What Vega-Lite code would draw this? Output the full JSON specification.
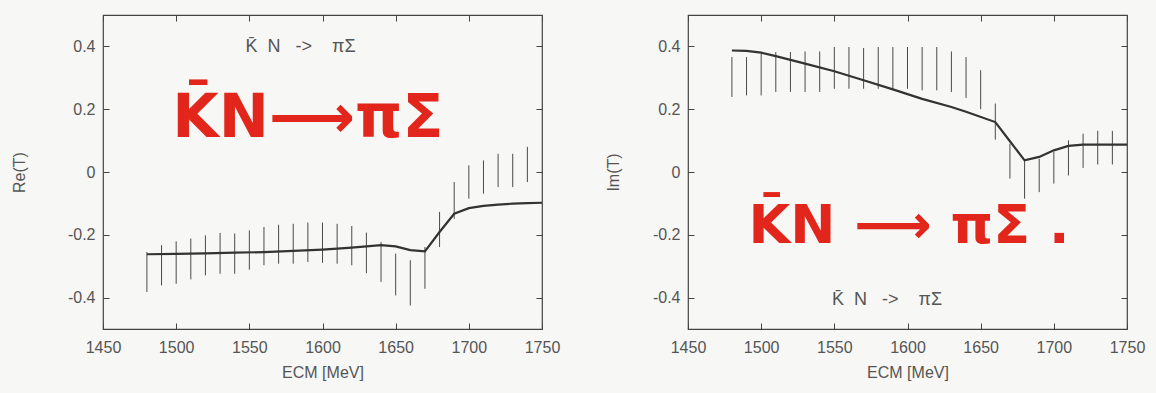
{
  "$schema": "https://vega.github.io/schema/vega-lite/v6.json",
  "background": "#f7f7f5",
  "padding": {"left": 10, "top": 13, "right": 12, "bottom": 12},
  "config": {
    "view": {"stroke": "#444", "strokeWidth": 1.2},
    "concat": {"spacing": 43},
    "axis": {
      "labelFont": "Liberation Sans", "labelFontSize": 16, "labelColor": "#555",
      "titleFont": "Liberation Sans", "titleFontSize": 16, "titleFontWeight": "normal", "titleColor": "#555",
      "grid": false, "domain": false, "tickColor": "#444", "tickSize": -6, "labelPadding": 14
    }
  },
  "datasets": {
    "re_err": [
      {"E": 1480, "lo": -0.382, "hi": -0.255}, {"E": 1490, "lo": -0.361, "hi": -0.233},
      {"E": 1500, "lo": -0.356, "hi": -0.221}, {"E": 1510, "lo": -0.342, "hi": -0.212},
      {"E": 1520, "lo": -0.329, "hi": -0.202}, {"E": 1530, "lo": -0.324, "hi": -0.194},
      {"E": 1540, "lo": -0.324, "hi": -0.196}, {"E": 1550, "lo": -0.311, "hi": -0.186},
      {"E": 1560, "lo": -0.297, "hi": -0.175}, {"E": 1570, "lo": -0.292, "hi": -0.168},
      {"E": 1580, "lo": -0.292, "hi": -0.165}, {"E": 1590, "lo": -0.287, "hi": -0.161},
      {"E": 1600, "lo": -0.289, "hi": -0.161}, {"E": 1610, "lo": -0.292, "hi": -0.165},
      {"E": 1620, "lo": -0.297, "hi": -0.172}, {"E": 1630, "lo": -0.322, "hi": -0.193},
      {"E": 1640, "lo": -0.350, "hi": -0.223}, {"E": 1650, "lo": -0.393, "hi": -0.260},
      {"E": 1660, "lo": -0.425, "hi": -0.281}, {"E": 1670, "lo": -0.372, "hi": -0.239},
      {"E": 1680, "lo": -0.239, "hi": -0.127}, {"E": 1690, "lo": -0.149, "hi": -0.032},
      {"E": 1700, "lo": -0.085, "hi": 0.021}, {"E": 1710, "lo": -0.069, "hi": 0.037},
      {"E": 1720, "lo": -0.048, "hi": 0.058}, {"E": 1730, "lo": -0.048, "hi": 0.058},
      {"E": 1740, "lo": -0.032, "hi": 0.080}
    ],
    "re_line": [
      {"E": 1480, "v": -0.262}, {"E": 1500, "v": -0.261}, {"E": 1520, "v": -0.259},
      {"E": 1540, "v": -0.257}, {"E": 1560, "v": -0.255}, {"E": 1580, "v": -0.251},
      {"E": 1600, "v": -0.247}, {"E": 1620, "v": -0.241}, {"E": 1640, "v": -0.233},
      {"E": 1650, "v": -0.237}, {"E": 1660, "v": -0.249}, {"E": 1670, "v": -0.253},
      {"E": 1680, "v": -0.191}, {"E": 1690, "v": -0.133}, {"E": 1700, "v": -0.115},
      {"E": 1710, "v": -0.108}, {"E": 1720, "v": -0.104}, {"E": 1730, "v": -0.101},
      {"E": 1740, "v": -0.099}, {"E": 1750, "v": -0.098}
    ],
    "im_err": [
      {"E": 1480, "lo": 0.239, "hi": 0.366}, {"E": 1490, "lo": 0.244, "hi": 0.366},
      {"E": 1500, "lo": 0.244, "hi": 0.377}, {"E": 1510, "lo": 0.255, "hi": 0.382},
      {"E": 1520, "lo": 0.255, "hi": 0.382}, {"E": 1530, "lo": 0.255, "hi": 0.384},
      {"E": 1540, "lo": 0.255, "hi": 0.384}, {"E": 1550, "lo": 0.265, "hi": 0.398},
      {"E": 1560, "lo": 0.265, "hi": 0.398}, {"E": 1570, "lo": 0.265, "hi": 0.395},
      {"E": 1580, "lo": 0.265, "hi": 0.398}, {"E": 1590, "lo": 0.265, "hi": 0.398},
      {"E": 1600, "lo": 0.265, "hi": 0.398}, {"E": 1610, "lo": 0.260, "hi": 0.398},
      {"E": 1620, "lo": 0.260, "hi": 0.398}, {"E": 1630, "lo": 0.255, "hi": 0.384},
      {"E": 1640, "lo": 0.236, "hi": 0.366}, {"E": 1650, "lo": 0.200, "hi": 0.324},
      {"E": 1660, "lo": 0.103, "hi": 0.218}, {"E": 1670, "lo": -0.021, "hi": 0.090},
      {"E": 1680, "lo": -0.085, "hi": 0.037}, {"E": 1690, "lo": -0.064, "hi": 0.042},
      {"E": 1700, "lo": -0.037, "hi": 0.064}, {"E": 1710, "lo": -0.011, "hi": 0.101},
      {"E": 1720, "lo": 0.013, "hi": 0.122}, {"E": 1730, "lo": 0.024, "hi": 0.131},
      {"E": 1740, "lo": 0.024, "hi": 0.131}
    ],
    "im_line": [
      {"E": 1480, "v": 0.387}, {"E": 1490, "v": 0.386}, {"E": 1500, "v": 0.380},
      {"E": 1510, "v": 0.369}, {"E": 1530, "v": 0.345}, {"E": 1550, "v": 0.321},
      {"E": 1570, "v": 0.292}, {"E": 1590, "v": 0.263}, {"E": 1610, "v": 0.233},
      {"E": 1630, "v": 0.207}, {"E": 1640, "v": 0.192}, {"E": 1660, "v": 0.159},
      {"E": 1670, "v": 0.098}, {"E": 1680, "v": 0.037}, {"E": 1690, "v": 0.048},
      {"E": 1700, "v": 0.069}, {"E": 1710, "v": 0.083}, {"E": 1720, "v": 0.087},
      {"E": 1750, "v": 0.087}
    ],
    "re_labels": [{"E": 1585, "v": 0.398, "t": "K̄\u00a0\u00a0N\u00a0\u00a0\u00a0->\u00a0\u00a0\u00a0\u00a0πΣ"}],
    "re_red": [{"E": 1590, "v": 0.17, "t": "K̄N⟶πΣ"}],
    "im_labels": [{"E": 1586, "v": -0.408, "t": "K̄\u00a0\u00a0N\u00a0\u00a0\u00a0->\u00a0\u00a0\u00a0\u00a0πΣ"}],
    "im_red": [{"E": 1601, "v": -0.175, "t": "K̄N ⟶ πΣ ."}]
  },
  "hconcat": [
    {
      "width": 439, "height": 314,
      "layer": [
        {
          "data": {"name": "re_err"},
          "mark": {"type": "rule", "color": "#4a4a4a", "strokeWidth": 1},
          "encoding": {
            "x": {"field": "E", "type": "quantitative", "scale": {"domain": [1450, 1750], "nice": false, "zero": false},
                  "axis": {"values": [1450, 1500, 1550, 1600, 1650, 1700, 1750], "title": "ECM [MeV]", "labelFlush": false, "labelExpr": "'' + datum.value", "labelPadding": 16, "titlePadding": 9}},
            "y": {"field": "lo", "type": "quantitative", "scale": {"domain": [-0.5, 0.5], "nice": false},
                  "axis": {"values": [-0.4, -0.2, 0, 0.2, 0.4], "title": "Re(T)", "labelExpr": "'' + datum.value", "titlePadding": 40}},
            "y2": {"field": "hi"}
          }
        },
        {
          "data": {"name": "re_line"},
          "mark": {"type": "line", "color": "#333", "strokeWidth": 2.2},
          "encoding": {
            "x": {"field": "E", "type": "quantitative", "axis": {"orient": "top", "labels": false, "title": null, "values": [1450, 1500, 1550, 1600, 1650, 1700, 1750]}},
            "y": {"field": "v", "type": "quantitative", "axis": {"orient": "right", "labels": false, "title": null, "values": [-0.4, -0.2, 0, 0.2, 0.4]}}
          }
        },
        {
          "data": {"name": "re_labels"},
          "mark": {"type": "text", "font": "Liberation Sans", "fontSize": 18, "color": "#555", "align": "center", "baseline": "middle"},
          "encoding": {
            "x": {"field": "E", "type": "quantitative", "axis": null},
            "y": {"field": "v", "type": "quantitative", "axis": null},
            "text": {"field": "t"}
          }
        },
        {
          "data": {"name": "re_red"},
          "mark": {"type": "text", "font": "DejaVu Sans", "fontSize": 60, "fontWeight": "bold", "color": "#e3261c", "align": "center", "baseline": "middle"},
          "encoding": {
            "x": {"field": "E", "type": "quantitative", "axis": null},
            "y": {"field": "v", "type": "quantitative", "axis": null},
            "text": {"field": "t"}
          }
        }
      ],
      "resolve": {"axis": {"x": "independent", "y": "independent"}}
    },
    {
      "width": 439, "height": 314,
      "layer": [
        {
          "data": {"name": "im_err"},
          "mark": {"type": "rule", "color": "#4a4a4a", "strokeWidth": 1},
          "encoding": {
            "x": {"field": "E", "type": "quantitative", "scale": {"domain": [1450, 1750], "nice": false, "zero": false},
                  "axis": {"values": [1450, 1500, 1550, 1600, 1650, 1700, 1750], "title": "ECM [MeV]", "labelFlush": false, "labelExpr": "'' + datum.value", "labelPadding": 16, "titlePadding": 9}},
            "y": {"field": "lo", "type": "quantitative", "scale": {"domain": [-0.5, 0.5], "nice": false},
                  "axis": {"values": [-0.4, -0.2, 0, 0.2, 0.4], "title": "Im(T)", "labelExpr": "'' + datum.value", "titlePadding": 31}},
            "y2": {"field": "hi"}
          }
        },
        {
          "data": {"name": "im_line"},
          "mark": {"type": "line", "color": "#333", "strokeWidth": 2.2},
          "encoding": {
            "x": {"field": "E", "type": "quantitative", "axis": {"orient": "top", "labels": false, "title": null, "values": [1450, 1500, 1550, 1600, 1650, 1700, 1750]}},
            "y": {"field": "v", "type": "quantitative", "axis": {"orient": "right", "labels": false, "title": null, "values": [-0.4, -0.2, 0, 0.2, 0.4]}}
          }
        },
        {
          "data": {"name": "im_labels"},
          "mark": {"type": "text", "font": "Liberation Sans", "fontSize": 18, "color": "#555", "align": "center", "baseline": "middle"},
          "encoding": {
            "x": {"field": "E", "type": "quantitative", "axis": null},
            "y": {"field": "v", "type": "quantitative", "axis": null},
            "text": {"field": "t"}
          }
        },
        {
          "data": {"name": "im_red"},
          "mark": {"type": "text", "font": "DejaVu Sans", "fontSize": 54, "fontWeight": "bold", "color": "#e3261c", "align": "center", "baseline": "middle"},
          "encoding": {
            "x": {"field": "E", "type": "quantitative", "axis": null},
            "y": {"field": "v", "type": "quantitative", "axis": null},
            "text": {"field": "t"}
          }
        }
      ],
      "resolve": {"axis": {"x": "independent", "y": "independent"}}
    }
  ]
}
